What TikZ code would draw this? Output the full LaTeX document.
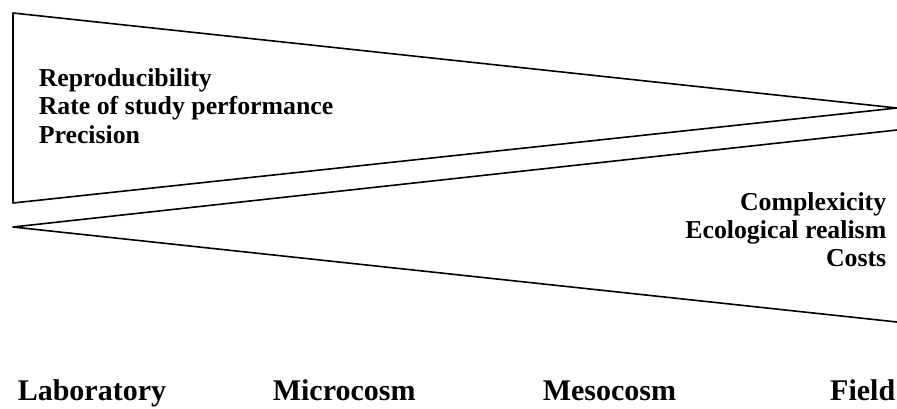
\documentclass[tikz,border=0pt]{standalone}
\usepackage{fontspec}
\setmainfont{Liberation Serif}
\usetikzlibrary{positioning}

\begin{document}
\begin{tikzpicture}[x=1pt, y=-1pt, line width=1.6pt, line join=round,
    every node/.style={inner sep=0pt, font=\bfseries\fontsize{25.8}{28}\selectfont},
    scale label/.style={font=\bfseries\fontsize{30}{32}\selectfont, anchor=base west}]
            \useasboundingbox (0,0) rectangle (897,409);
            \clip (0,0) rectangle (897,409);

            % upper wedge: narrowing towards the field
            \coordinate (upTL) at (13,13);
            \coordinate (upBL) at (13,203);
            \coordinate (upTip) at (897,108);
            \draw (upTip) -- (upTL) -- (upBL) -- cycle;

            % lower wedge: widening towards the field
            \coordinate (loTip) at (13,227);
            \coordinate (loTR) at (897,130);
            \coordinate (loBR) at (897,322);
            \draw (loTR) -- (loTip) -- (loBR);

            \node[anchor=base west] (repro) at (38,87) {Reproducibility};
            \node[anchor=base west] (rate) at (38,115) {Rate of study performance};
            \node[anchor=base west] (prec) at (38,143) {Precision};

            \node[anchor=base east] (compl) at (887,210) {Complexicity};
            \node[anchor=base east] (realism) at (887,238) {Ecological realism};
            \node[anchor=base east] (costs) at (887,266) {Costs};

            \node[scale label] (lab) at (17,400) {Laboratory};
            \node[scale label] (micro) at (272,400) {Microcosm};
            \node[scale label] (meso) at (542,400) {Mesocosm};
            \node[scale label, anchor=base east] (field) at (896,400) {Field};
        \end{tikzpicture}
\end{document}
